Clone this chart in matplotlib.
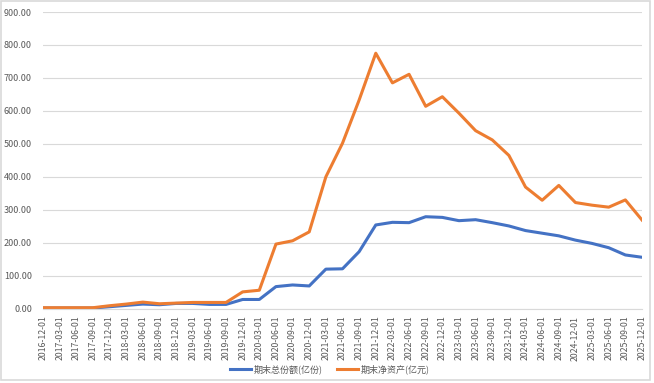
import matplotlib
matplotlib.use("Agg")
import matplotlib.pyplot as plt
from matplotlib.patches import Rectangle

plt.rcParams['font.family'] = ['Noto Sans CJK SC', 'DejaVu Sans']

dates = ["2016-12-01", "2017-03-01", "2017-06-01", "2017-09-01", "2017-12-01",
         "2018-03-01", "2018-06-01", "2018-09-01", "2018-12-01", "2019-03-01",
         "2019-06-01", "2019-09-01", "2019-12-01", "2020-03-01", "2020-06-01",
         "2020-09-01", "2020-12-01", "2021-03-01", "2021-06-01", "2021-09-01",
         "2021-12-01", "2022-03-01", "2022-06-01", "2022-09-01", "2022-12-01",
         "2023-03-01", "2023-06-01", "2023-09-01", "2023-12-01", "2024-03-01",
         "2024-06-01", "2024-09-01", "2024-12-01", "2025-03-01", "2025-06-01",
         "2025-09-01", "2025-12-01"]

shares = [2, 2, 2, 2, 6, 10, 14, 12, 16, 16, 13, 13, 28, 28, 67,
          72, 69, 120, 121, 173, 254, 262, 261, 279, 277,
          267, 270, 261, 251, 237, 229, 221, 208, 198, 185, 163, 156]

net_assets = [3, 3, 3, 3, 9, 14, 20, 15, 17, 19, 19, 19, 51, 56, 196,
              206, 233, 400, 502, 633, 775, 685, 711, 614, 643,
              593, 540, 512, 465, 369, 329, 374, 322, 314, 308, 330, 269]

label_shares = "期末总份额(亿份)"
label_assets = "期末净资产(亿元)"
yticks = [0, 100, 200, 300, 400, 500, 600, 700, 800, 900]

W, H = 654, 383
fig = plt.figure(figsize=(W / 100, H / 100), dpi=100)
ax = fig.add_axes([43 / W, (H - 308.7) / H, (642 - 43) / W, (308.7 - 12) / H])

x = list(range(len(dates)))
l1, = ax.plot(x, shares, color="#4472C4", lw=2.2, solid_joinstyle="round", label=label_shares)
l2, = ax.plot(x, net_assets, color="#ED7D31", lw=2.2, solid_joinstyle="round", label=label_assets)

ax.set_xlim(0, len(dates) - 1)
ax.set_ylim(0, 900)
ax.set_yticks(yticks)
ax.set_yticklabels([f"{v:.2f}" for v in yticks])
ax.set_xticks(x)
ax.set_xticklabels(dates, rotation=90)
ax.tick_params(axis="y", length=0, pad=8, labelsize=6.5, labelcolor="#595959")
ax.tick_params(axis="x", length=0, pad=5, labelsize=6.3, labelcolor="#595959")
ax.grid(axis="y", color="#D9D9D9", lw=0.8)
ax.set_axisbelow(True)
for s in ["top", "right", "left"]:
    ax.spines[s].set_visible(False)
ax.spines["bottom"].set_color("#D9D9D9")
ax.spines["bottom"].set_linewidth(0.8)

fig.legend(handles=[l1, l2], loc="center", bbox_to_anchor=(330 / W, (H - 369) / H),
           ncol=2, frameon=False, fontsize=6.5, handlelength=2.3, columnspacing=1.6,
           handletextpad=0.3, labelcolor="#595959")

fig.patches.append(Rectangle((1 / W, 3 / H), 649 / W, 379 / H, transform=fig.transFigure,
                             fill=False, edgecolor="#D9D9D9", lw=1.2))

fig.savefig("out.png", dpi=100)
